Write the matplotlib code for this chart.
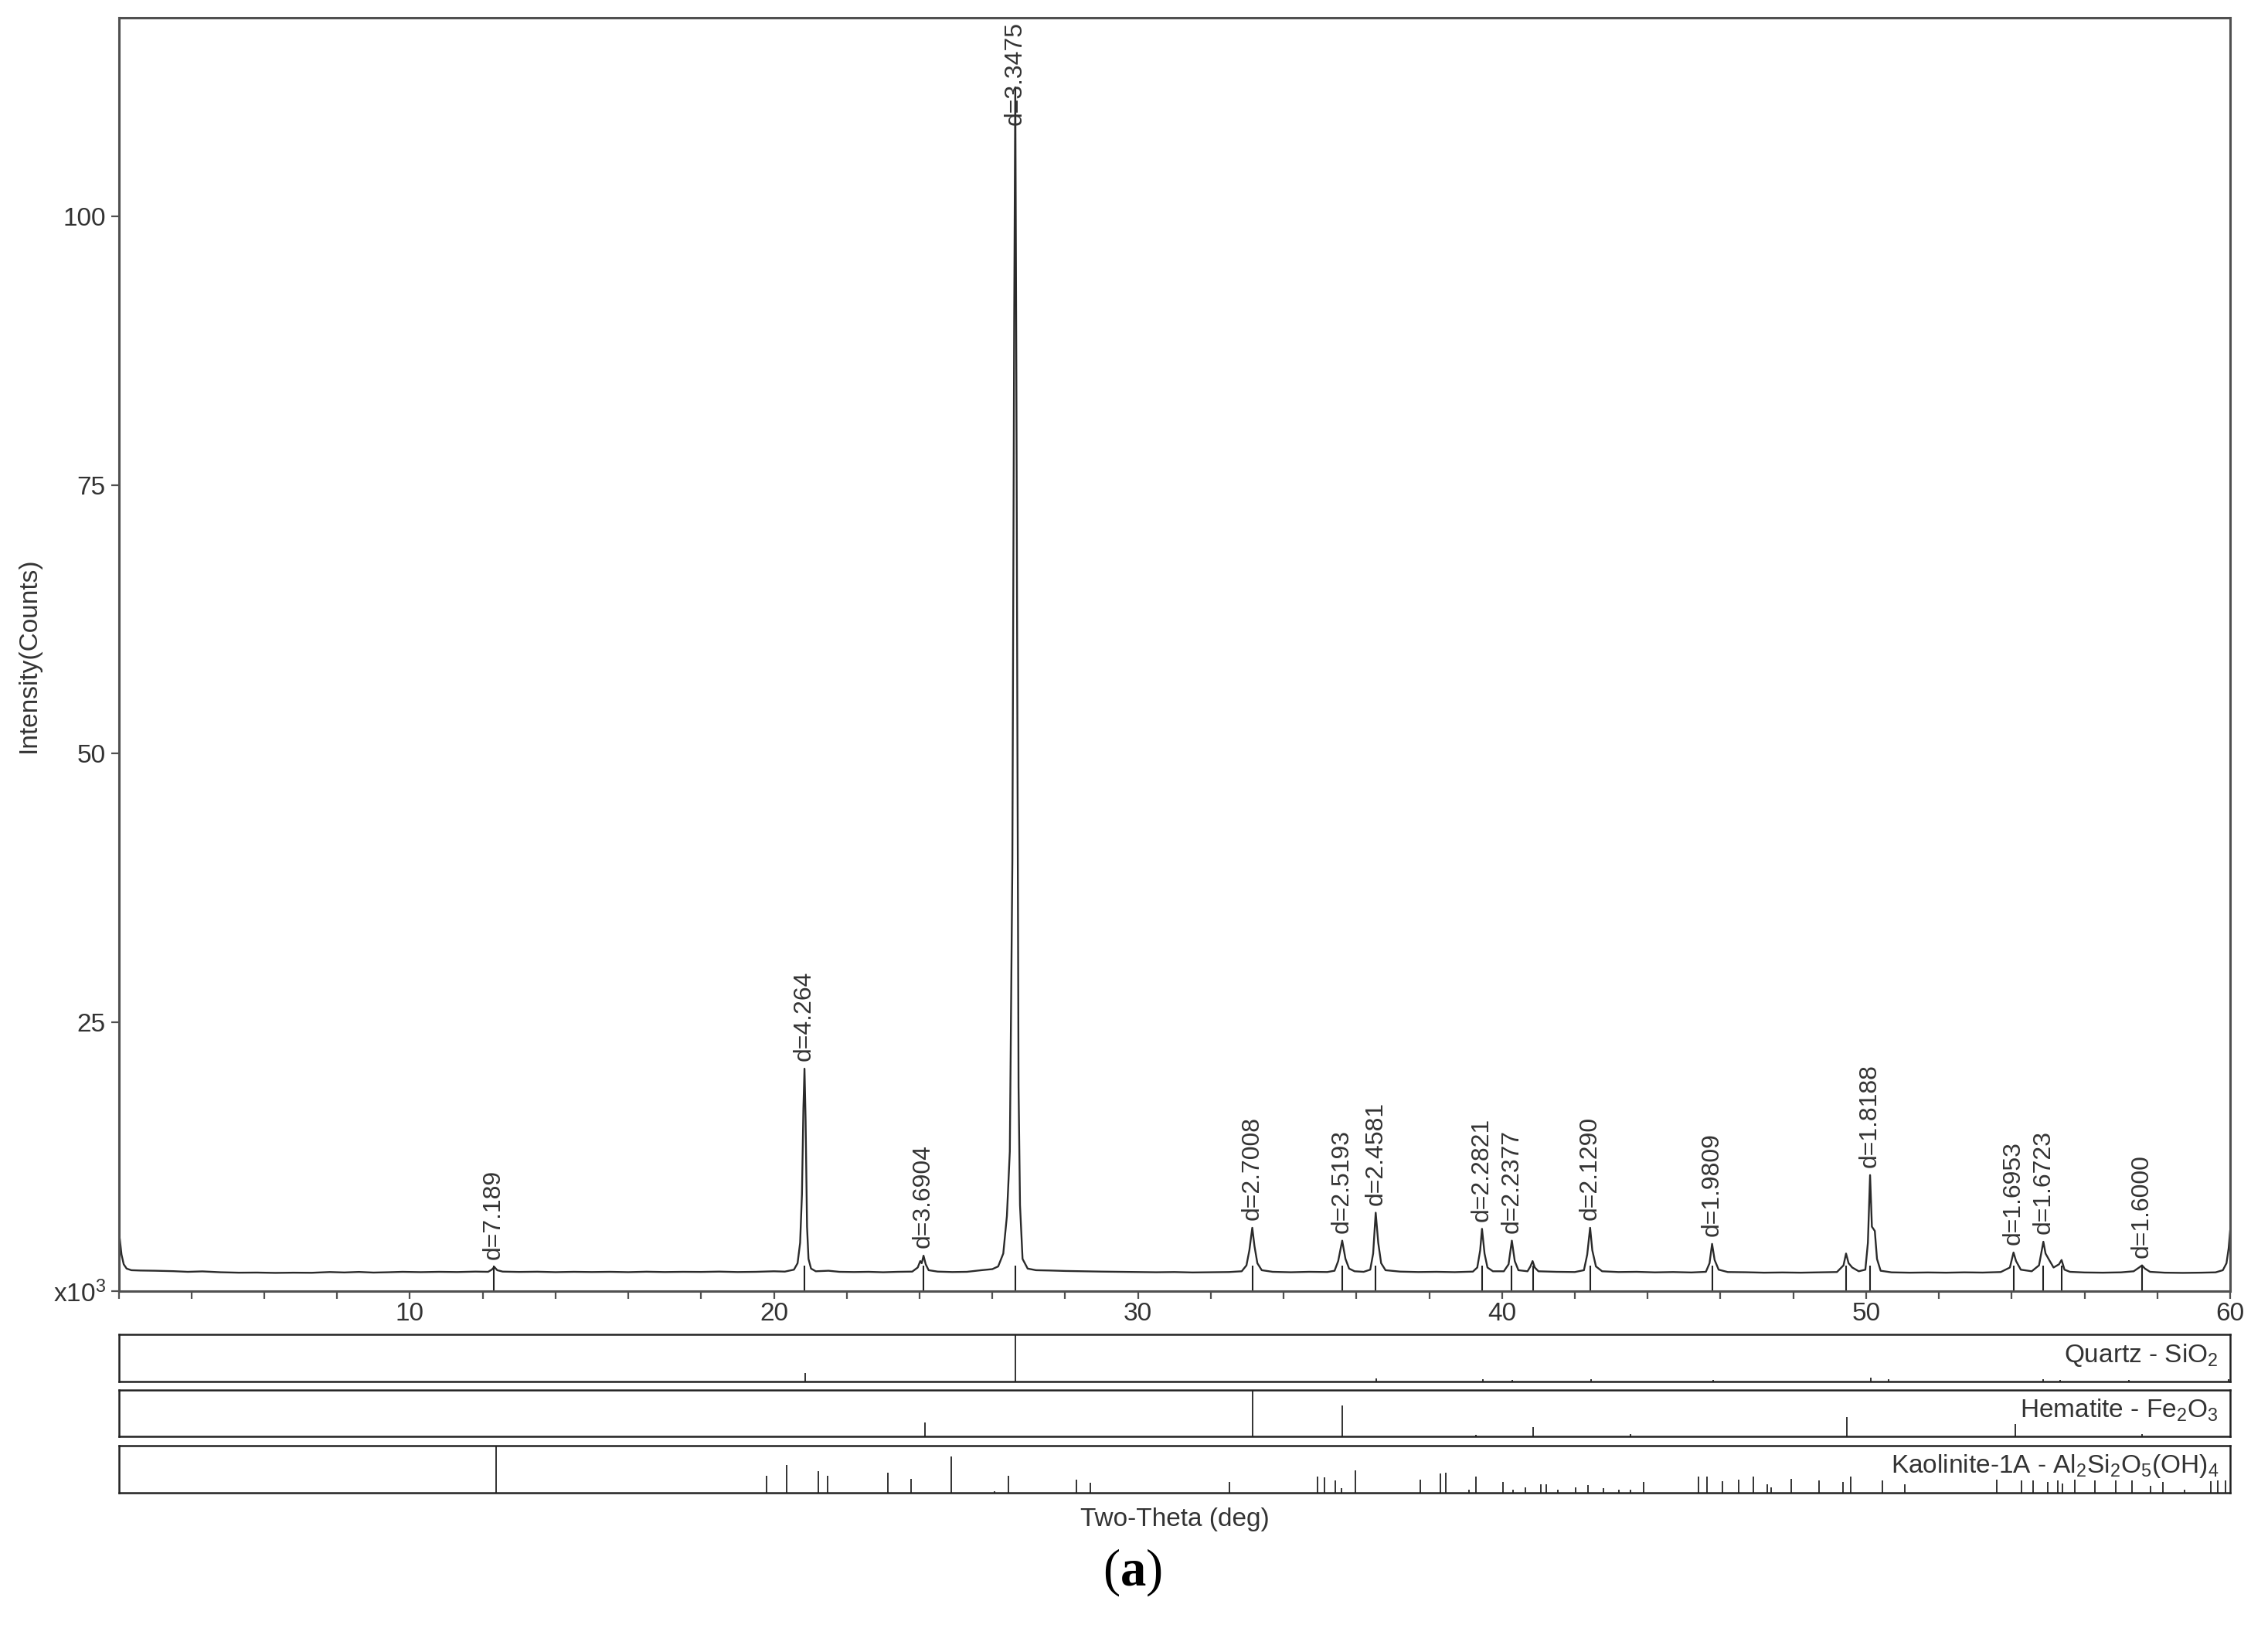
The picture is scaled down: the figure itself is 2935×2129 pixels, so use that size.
import matplotlib.pyplot as plt
import numpy as np

plt.rcParams["font.family"] = ["Liberation Sans", "DejaVu Sans"]
plt.rcParams["mathtext.fontset"] = "custom"
plt.rcParams["mathtext.rm"] = "Liberation Sans"
plt.rcParams["mathtext.it"] = "Liberation Sans:italic"
plt.rcParams["mathtext.bf"] = "Liberation Serif:bold"

# measured pattern, intensity in thousands of counts
two_theta = [
    2.00, 2.04, 2.08, 2.14, 2.22, 2.35, 2.6, 3.0, 3.5, 3.9, 4.3, 4.8, 5.3, 5.8, 6.3, 6.8,
    7.3, 7.8, 8.2, 8.6, 9.0, 9.4, 9.8, 10.3, 10.8, 11.3, 11.8, 12.15, 12.25, 12.32, 12.40,
    12.55, 13.0, 13.5, 14.0, 14.5, 15.0, 15.5, 16.0, 16.5, 17.0, 17.5, 18.0, 18.5, 19.0,
    19.5, 20.0, 20.3, 20.55, 20.65, 20.72, 20.77, 20.81, 20.84, 20.87, 20.91, 20.95, 21.02,
    21.15, 21.5, 21.8, 22.2, 22.6, 23.0, 23.4, 23.8, 23.95, 24.02, 24.06, 24.11, 24.17,
    24.25, 24.5, 24.9, 25.3, 25.7, 26.0, 26.16, 26.30, 26.40, 26.48, 26.55, 26.60, 26.63,
    26.66, 26.69, 26.72, 26.76, 26.83, 26.97, 27.2, 27.6, 28.0, 28.5, 29.0, 29.5, 30.0,
    30.5, 31.0, 31.5, 32.0, 32.5, 32.85, 32.98, 33.06, 33.14, 33.20, 33.28, 33.40, 33.7,
    34.2, 34.7, 35.2, 35.40, 35.50, 35.61, 35.70, 35.80, 35.95, 36.2, 36.38, 36.46, 36.53,
    36.60, 36.68, 36.80, 37.2, 37.7, 38.2, 38.7, 39.2, 39.32, 39.40, 39.45, 39.52, 39.60,
    39.75, 40.05, 40.18, 40.27, 40.35, 40.45, 40.70, 40.78, 40.84, 40.90, 41.0, 41.5, 42.0,
    42.25, 42.34, 42.42, 42.48, 42.58, 42.75, 43.2, 43.7, 44.2, 44.7, 45.2, 45.6, 45.70,
    45.77, 45.84, 45.95, 46.2, 46.7, 47.2, 47.7, 48.2, 48.7, 49.2, 49.38, 49.45, 49.52,
    49.62, 49.80, 49.98, 50.05, 50.11, 50.16, 50.24, 50.30, 50.40, 50.7, 51.2, 51.7, 52.2,
    52.7, 53.2, 53.7, 53.95, 54.05, 54.12, 54.25, 54.55, 54.75, 54.87, 54.93, 55.03, 55.15,
    55.30, 55.37, 55.45, 55.6, 56.0, 56.5, 57.0, 57.35, 57.50, 57.58, 57.66, 57.80, 58.2,
    58.7, 59.2, 59.6, 59.80, 59.90, 59.96, 60.00,
]
counts = [
    5.8, 4.6, 3.4, 2.5, 2.1, 1.95, 1.92, 1.90, 1.86, 1.80, 1.84, 1.76, 1.72, 1.73, 1.70, 1.72,
    1.71, 1.78, 1.74, 1.79, 1.73, 1.76, 1.80, 1.77, 1.80, 1.78, 1.82, 1.80, 2.0, 2.25, 1.95,
    1.82, 1.79, 1.81, 1.77, 1.80, 1.78, 1.80, 1.77, 1.81, 1.78, 1.80, 1.79, 1.82, 1.78,
    1.80, 1.85, 1.82, 2.0, 2.6, 4.5, 9.0, 17.0, 20.7, 16.0, 6.0, 3.0, 2.1,
    1.85, 1.90, 1.80, 1.78, 1.80, 1.76, 1.80, 1.82, 2.2, 2.8, 2.6, 3.3, 2.5,
    1.95, 1.82, 1.78, 1.80, 1.95, 2.05, 2.3, 3.5, 7.0, 13.0, 40.0, 90.0, 112.0,
    85.0, 50.0, 19.0, 8.0, 3.0, 2.1, 1.95, 1.92, 1.88, 1.85, 1.82, 1.80, 1.78,
    1.76, 1.78, 1.74, 1.76, 1.78, 1.85, 2.4, 3.8, 5.9, 4.2, 2.6, 1.95, 1.80,
    1.76, 1.80, 1.78, 1.9, 2.8, 4.7, 3.0, 2.1, 1.85, 1.80, 2.0, 3.5, 7.3,
    4.5, 2.6, 1.95, 1.82, 1.78, 1.80, 1.77, 1.82, 2.2, 3.8, 5.8, 3.5, 2.2,
    1.85, 1.85, 2.5, 4.7, 2.8, 1.95, 1.85, 2.3, 2.8, 2.2, 1.85, 1.80, 1.78,
    1.95, 3.4, 5.9, 3.8, 2.3, 1.85, 1.78, 1.80, 1.75, 1.78, 1.74, 1.80, 2.6,
    4.4, 2.9, 2.0, 1.78, 1.76, 1.72, 1.74, 1.72, 1.75, 1.78, 2.4, 3.5, 2.6,
    2.2, 1.85, 2.0, 4.5, 10.8, 6.0, 5.6, 3.0, 1.9, 1.75, 1.72, 1.74, 1.72,
    1.75, 1.73, 1.78, 2.2, 3.6, 2.8, 2.0, 1.85, 2.4, 4.6, 3.5, 2.9, 2.2,
    2.5, 2.9, 2.0, 1.80, 1.74, 1.72, 1.75, 1.85, 2.2, 2.4, 2.1, 1.80, 1.72,
    1.70, 1.72, 1.75, 1.95, 2.6, 4.0, 5.6,
]

# identified peaks (empty label = marker only)
peak_pos = [12.30, 20.84, 24.10, 26.63, 33.14, 35.61, 36.53, 39.45, 40.27, 40.85,
            42.42, 45.77, 49.45, 50.11, 54.05, 54.87, 55.37, 57.58]
peak_height = [2.25, 20.7, 3.3, 112.0, 5.9, 4.7, 7.3, 5.8, 4.7, 2.8,
               5.9, 4.4, 3.5, 10.8, 3.6, 4.6, 2.9, 2.4]
peak_label = ["d=7.189", "d=4.264", "d=3.6904", "d=3.3475", "d=2.7008", "d=2.5193",
              "d=2.4581", "d=2.2821", "d=2.2377", "", "d=2.1290", "d=1.9809", "",
              "d=1.8188", "d=1.6953", "d=1.6723", "", "d=1.6000"]

# reference patterns: 2-theta and relative intensity
quartz_pos = [20.86, 26.64, 36.54, 39.47, 40.29, 42.45, 45.79, 50.14, 50.62, 54.87,
              55.33, 57.23, 59.96]
quartz_int = [0.18, 1.0, 0.06, 0.05, 0.03, 0.05, 0.03, 0.08, 0.05, 0.05, 0.03, 0.03, 0.05]

hematite_pos = [24.14, 33.15, 35.61, 39.28, 40.85, 43.52, 49.48, 54.09, 57.59]
hematite_int = [0.30, 1.0, 0.68, 0.04, 0.21, 0.06, 0.43, 0.27, 0.05]

kaolinite_pos = [12.36, 19.80, 20.34, 21.22, 21.47, 23.12, 23.76, 24.88, 26.07, 26.44,
                 28.30, 28.69, 32.51, 34.94, 35.12, 35.43, 35.60, 35.98, 37.75, 38.30,
                 38.46, 39.10, 39.29, 40.02, 40.30, 40.64, 41.07, 41.22, 41.53, 42.02,
                 42.36, 42.79, 43.22, 43.53, 43.90, 45.40, 45.63, 46.05, 46.51, 46.91,
                 47.28, 47.40, 47.94, 48.70, 49.37, 49.58, 50.44, 51.06, 53.59, 54.27,
                 54.59, 55.00, 55.27, 55.39, 55.73, 56.28, 56.85, 57.31, 57.82, 58.15,
                 58.74, 59.46, 59.66, 59.88]
kaolinite_int = [1.0, 0.37, 0.60, 0.47, 0.37, 0.43, 0.30, 0.78, 0.04, 0.37,
                 0.28, 0.21, 0.24, 0.36, 0.34, 0.26, 0.10, 0.48, 0.28, 0.42,
                 0.43, 0.06, 0.36, 0.23, 0.06, 0.12, 0.19, 0.19, 0.06, 0.12,
                 0.17, 0.10, 0.06, 0.06, 0.23, 0.36, 0.36, 0.25, 0.28, 0.35,
                 0.19, 0.12, 0.30, 0.26, 0.23, 0.36, 0.26, 0.19, 0.28, 0.26,
                 0.26, 0.23, 0.26, 0.20, 0.28, 0.26, 0.26, 0.26, 0.15, 0.23,
                 0.06, 0.25, 0.26, 0.26]

phase_names = ["Quartz - SiO$_2$", "Hematite - Fe$_2$O$_3$",
               "Kaolinite-1A - Al$_2$Si$_2$O$_5$(OH)$_4$"]

XMIN, XMAX, YMAX = 2, 60, 118.5
spine_col = "#505050"
txt_col = "#333333"

fig = plt.figure(figsize=(29.35, 21.29), dpi=100)
ax = fig.add_axes([0.0523, 0.2151, 0.9310, 0.7743])
ax.plot(two_theta, counts, color="#2a2a2a", lw=1.7)
ax.vlines(peak_pos, 0, 2.4, color="#222222", lw=1.5)
for x, h, lab in zip(peak_pos, peak_height, peak_label):
    if not lab:
        continue
    ax.annotate(lab, xy=(x, min(h, 107.8)), xytext=(0, 7), textcoords="offset points",
                rotation=90, ha="center", va="bottom", fontsize=23, color=txt_col)

ax.set_xlim(XMIN, XMAX)
ax.set_ylim(0, YMAX)
xt = np.arange(XMIN, XMAX + 1, 2)
ax.set_xticks(xt)
ax.set_xticklabels([str(v) if v % 10 == 0 else "" for v in xt])
ax.set_yticks([0, 25, 50, 75, 100])
ax.set_yticklabels(["x10$^3$", "25", "50", "75", "100"])
ax.tick_params(length=7, width=1.6, color=spine_col, labelsize=24, labelcolor=txt_col)
ax.tick_params(axis="x", pad=3)
ax.tick_params(axis="y", pad=5)
for s in ax.spines.values():
    s.set_color(spine_col)
    s.set_linewidth(2.2)

fig.text(0.0126, 0.602, "Intensity(Counts)", rotation=90, ha="center", va="center",
         fontsize=24, color=txt_col)

panels = [
    ([0.0523, 0.1602, 0.9310, 0.0286], quartz_pos, quartz_int),
    ([0.0523, 0.1268, 0.9310, 0.0282], hematite_pos, hematite_int),
    ([0.0523, 0.0925, 0.9310, 0.0287], kaolinite_pos, kaolinite_int),
]
for (rect, pos, rel), name in zip(panels, phase_names):
    pax = fig.add_axes(rect)
    pax.vlines(pos, 0, rel, color="#222222", lw=1.3)
    pax.set_xlim(XMIN, XMAX)
    pax.set_ylim(0, 1.02)
    pax.set_xticks([])
    pax.set_yticks([])
    for s in pax.spines.values():
        s.set_color("#222222")
        s.set_linewidth(1.8)
    pax.text(0.9945, 0.56, name, transform=pax.transAxes, ha="right", va="center",
             fontsize=24, color=txt_col)

fig.text(0.518, 0.0761, "Two-Theta (deg)", ha="center", va="center", fontsize=24,
         color=txt_col)
fig.text(0.4994, 0.044, r"($\mathbf{a}$)", ha="center", va="center", fontsize=48,
         family="Liberation Serif", color="black")

fig.savefig("out.png", dpi=100)
